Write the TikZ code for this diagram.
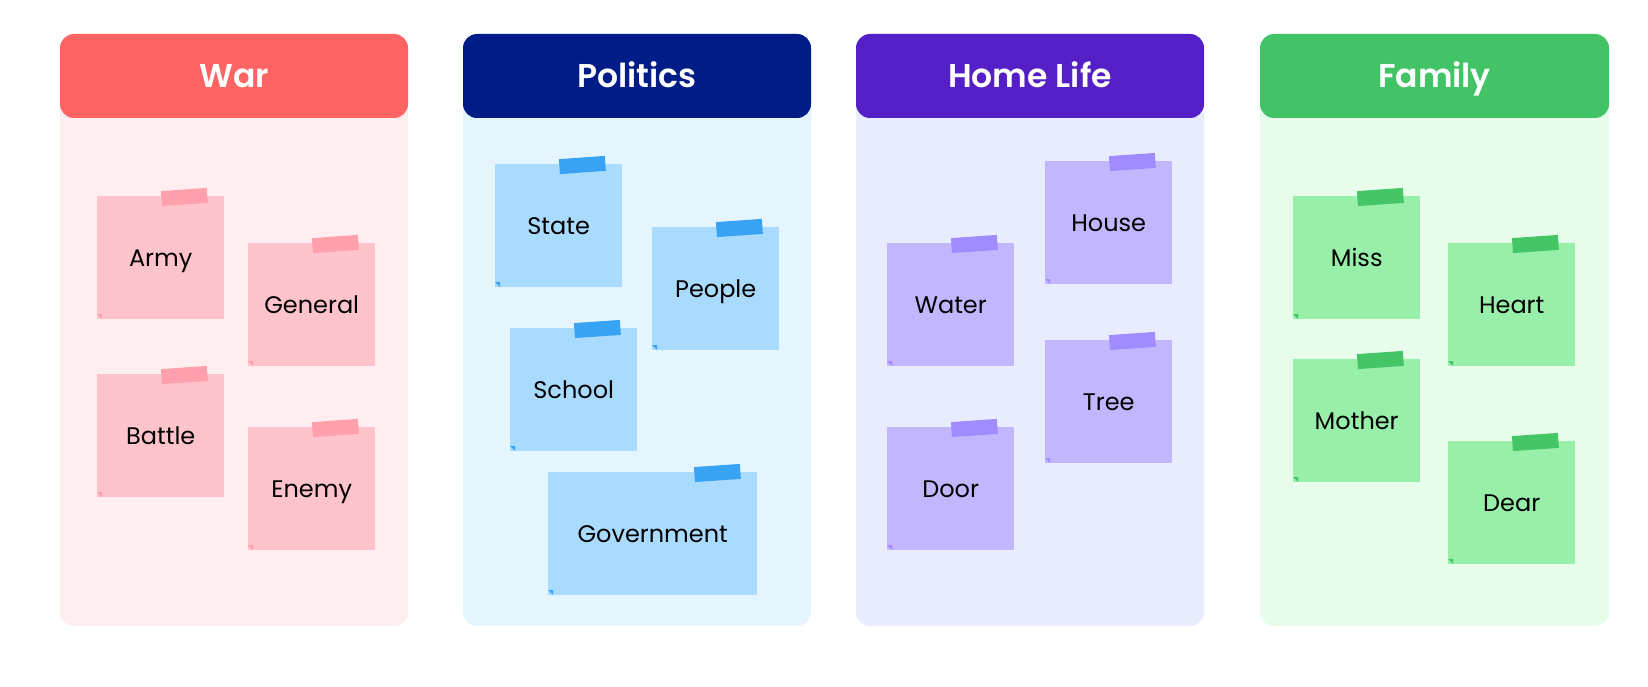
\documentclass[tikz,border=0pt]{standalone}
\usepackage{fontspec}
\setmainfont{Poppins}
\newfontfamily\headfont{Poppins SemiBold}

\definecolor{warHead}{HTML}{FF6464}
\definecolor{warBody}{HTML}{FFEEEF}
\definecolor{warNote}{HTML}{FFC3CB}
\definecolor{warTape}{HTML}{FFA0AC}
\definecolor{polHead}{HTML}{001C86}
\definecolor{polBody}{HTML}{E5F5FF}
\definecolor{polNote}{HTML}{A9DBFF}
\definecolor{polTape}{HTML}{38A2F5}
\definecolor{homeHead}{HTML}{541FC6}
\definecolor{homeBody}{HTML}{E9EBFF}
\definecolor{homeNote}{HTML}{C2B7FF}
\definecolor{homeTape}{HTML}{A18CFF}
\definecolor{famHead}{HTML}{42C466}
\definecolor{famBody}{HTML}{E7FCEA}
\definecolor{famNote}{HTML}{98EFAA}
\definecolor{famTape}{HTML}{44C566}

\begin{document}
\begin{tikzpicture}[x=1pt,y=-1pt,
    head/.style={rounded corners=14pt,minimum width=348pt,minimum height=84pt,
        text=white,text height=23pt,text depth=0pt,
        font=\headfont\fontsize{33}{38}\selectfont},
    tape/.style={minimum width=46pt,minimum height=15pt,inner sep=0pt,rotate=4},
    fold/.style={path picture={\fill[#1] ([yshift=5pt]path picture bounding box.south west)
        -- ++(5pt,0pt) -- ++(0pt,-5pt) -- cycle;}}]
    \tikzstyle{note}=[minimum width=127pt,minimum height=123pt,inner sep=0pt,
        text height=17pt,text depth=0pt,anchor=north west,font=\fontsize{24}{28}\selectfont]

    \useasboundingbox[fill=white] (0,0) rectangle (1648,687);

    % War
    \fill[warBody,rounded corners=14pt] (60,34) rectangle (408,626);
    \node[head,fill=warHead] (war) at (234,76) {War};
    \node[note,fill=warNote,fold=warTape] (army) at (97,196) {Army};
    \node[note,fill=warNote,fold=warTape] (general) at (248,243) {General};
    \node[note,fill=warNote,fold=warTape] (battle) at (97,374) {Battle};
    \node[note,fill=warNote,fold=warTape] (enemy) at (248,427) {Enemy};
    \node[tape,fill=warTape] (armytape) at ([xshift=-40pt,yshift=-1pt]army.north east) {};
    \node[tape,fill=warTape] (generaltape) at ([xshift=-40pt,yshift=-1pt]general.north east) {};
    \node[tape,fill=warTape] (battletape) at ([xshift=-40pt,yshift=-1pt]battle.north east) {};
    \node[tape,fill=warTape] (enemytape) at ([xshift=-40pt,yshift=-1pt]enemy.north east) {};

    % Politics
    \fill[polBody,rounded corners=14pt] (463,34) rectangle (811,626);
    \node[head,fill=polHead] (politics) at (637,76) {Politics};
    \node[note,fill=polNote,fold=polTape] (state) at (495,164) {State};
    \node[note,fill=polNote,fold=polTape] (people) at (652,227) {People};
    \node[note,fill=polNote,fold=polTape] (school) at (510,328) {School};
    \node[note,fill=polNote,fold=polTape,minimum width=209pt] (government) at (548,472) {Government};
    \node[tape,fill=polTape] (statetape) at ([xshift=-40pt,yshift=-1pt]state.north east) {};
    \node[tape,fill=polTape] (peopletape) at ([xshift=-40pt,yshift=-1pt]people.north east) {};
    \node[tape,fill=polTape] (schooltape) at ([xshift=-40pt,yshift=-1pt]school.north east) {};
    \node[tape,fill=polTape] (governmenttape) at ([xshift=-40pt,yshift=-1pt]government.north east) {};

    % Home Life
    \fill[homeBody,rounded corners=14pt] (856,34) rectangle (1204,626);
    \node[head,fill=homeHead] (home) at (1030,76) {Home Life};
    \node[note,fill=homeNote,fold=homeTape] (water) at (887,243) {Water};
    \node[note,fill=homeNote,fold=homeTape] (house) at (1045,161) {House};
    \node[note,fill=homeNote,fold=homeTape] (tree) at (1045,340) {Tree};
    \node[note,fill=homeNote,fold=homeTape] (door) at (887,427) {Door};
    \node[tape,fill=homeTape] (watertape) at ([xshift=-40pt,yshift=-1pt]water.north east) {};
    \node[tape,fill=homeTape] (housetape) at ([xshift=-40pt,yshift=-1pt]house.north east) {};
    \node[tape,fill=homeTape] (treetape) at ([xshift=-40pt,yshift=-1pt]tree.north east) {};
    \node[tape,fill=homeTape] (doortape) at ([xshift=-40pt,yshift=-1pt]door.north east) {};

    % Family
    \fill[famBody,rounded corners=14pt] (1260,34) rectangle (1609,626);
    \node[head,fill=famHead,minimum width=349pt] (family) at (1434.5,76) {Family};
    \node[note,fill=famNote,fold=famTape] (miss) at (1293,196) {Miss};
    \node[note,fill=famNote,fold=famTape] (heart) at (1448,243) {Heart};
    \node[note,fill=famNote,fold=famTape] (mother) at (1293,359) {Mother};
    \node[note,fill=famNote,fold=famTape] (dear) at (1448,441) {Dear};
    \node[tape,fill=famTape] (misstape) at ([xshift=-40pt,yshift=-1pt]miss.north east) {};
    \node[tape,fill=famTape] (hearttape) at ([xshift=-40pt,yshift=-1pt]heart.north east) {};
    \node[tape,fill=famTape] (mothertape) at ([xshift=-40pt,yshift=-1pt]mother.north east) {};
    \node[tape,fill=famTape] (deartape) at ([xshift=-40pt,yshift=-1pt]dear.north east) {};

\end{tikzpicture}
\end{document}
